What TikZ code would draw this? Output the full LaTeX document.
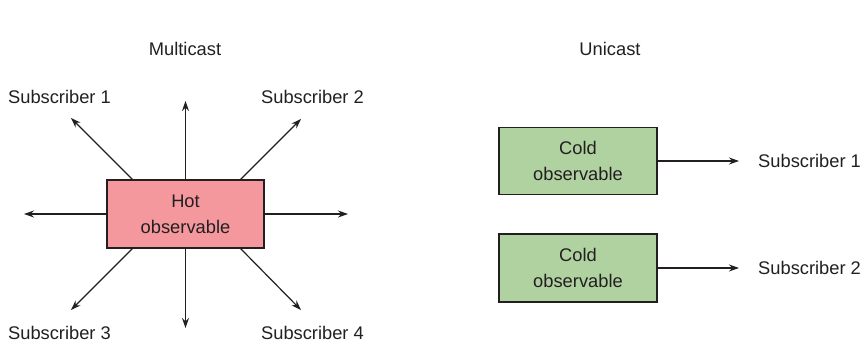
\documentclass[tikz,border=0pt]{standalone}
\usepackage{fontspec}
\setmainfont{Liberation Sans}
\usetikzlibrary{arrows.meta}
\definecolor{hotfill}{RGB}{244,152,158}
\definecolor{coldfill}{RGB}{176,210,160}
\definecolor{ink}{RGB}{35,31,32}
\begin{document}
\begin{tikzpicture}[x=1pt,y=-1pt,
  every node/.style={text=ink,font=\fontsize{18.3}{26}\selectfont},
  obsbox/.style={draw=ink,line width=1.3pt,align=center,inner sep=0pt},
  arr/.style={draw=ink,line width=1.2pt,-{Stealth[length=10pt,width=7pt]}}]
\useasboundingbox (0,0) rectangle (862,344);
\node (mt) at (185,49) {Multicast};
\node (ut) at (610,49) {Unicast};
\node[obsbox,fill=hotfill,minimum width=157pt,minimum height=68pt] (hot) at (185.5,214) {Hot\\observable};
\coordinate (eu) at (185.5,101);
\coordinate (ed) at (185.5,328);
\coordinate (el) at (24,214);
\coordinate (er) at (348,214);
\coordinate (enw) at (71,118);
\coordinate (ene) at (301,119);
\coordinate (esw) at (71,310);
\coordinate (ese) at (301,310);
\draw[arr] (hot.north) -- (eu);
\draw[arr] (hot.south) -- (ed);
\draw[arr] (hot.west) -- (el);
\draw[arr] (hot.east) -- (er);
\draw[arr] ([xshift=26pt]hot.north west) -- (enw);
\draw[arr] ([xshift=-24pt]hot.north east) -- (ene);
\draw[arr] ([xshift=26pt]hot.south west) -- (esw);
\draw[arr] ([xshift=-24pt]hot.south east) -- (ese);
\node (s1) at (59.5,97) {Subscriber 1};
\node (s2) at (312.5,97) {Subscriber 2};
\node (s3) at (59.5,333) {Subscriber 3};
\node (s4) at (312.5,333) {Subscriber 4};
\node[obsbox,fill=coldfill,minimum width=158pt,minimum height=67pt] (c1) at (578,161) {Cold\\observable};
\node[obsbox,fill=coldfill,minimum width=158pt,minimum height=68pt] (c2) at (578,268) {Cold\\observable};
\node[anchor=west,inner sep=0pt] (u1) at (758,161) {Subscriber 1};
\node[anchor=west,inner sep=0pt] (u2) at (758,268) {Subscriber 2};
\coordinate (a1) at (739,161);
\coordinate (a2) at (739,268);
\draw[arr] (c1.east) -- (a1);
\draw[arr] (c2.east) -- (a2);
\end{tikzpicture}
\end{document}
